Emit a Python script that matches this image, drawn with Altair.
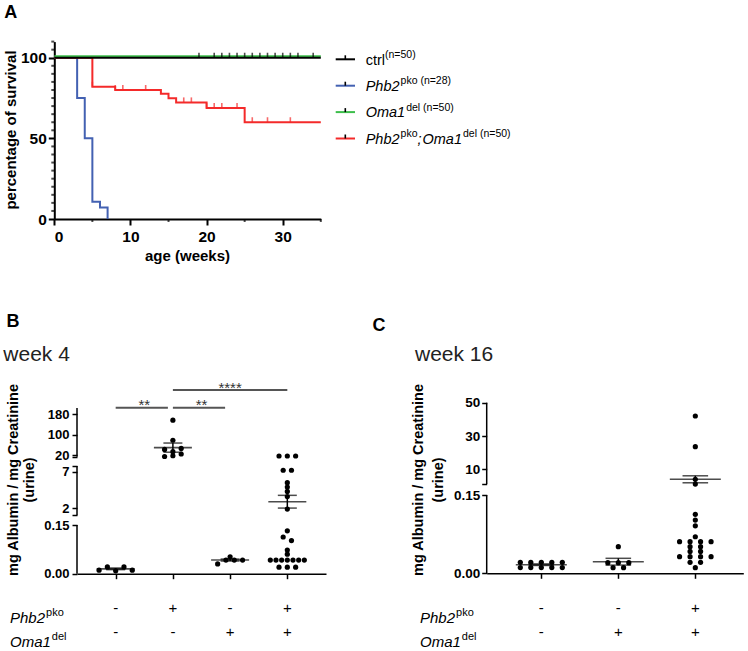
import altair as alt
import pandas as pd

FONT = "Liberation Sans"

# ---------------- Panel A data (Kaplan-Meier) ----------------
km_colors = ["#000000", "#4361B2", "#3DBE4B", "#F42A2A"]
km_t = [
    [0, 35],
    [0, 3, 4, 5, 6, 7],
    [0, 35],
    [0, 5, 8, 14, 15, 16, 20, 25, 35],
]
km_s = [
    [100, 100],
    [100, 75, 50, 10.7, 7.1, 0],
    [100, 100],
    [100, 82, 80, 77.7, 74.9, 72.3, 68.8, 60, 60],
]
cens_t_ctrl = [19, 21, 22, 23, 24, 25, 26, 27, 28, 29, 30, 31, 32, 34]
cens_s_ctrl = [100, 100, 100, 100, 100, 100, 100, 100, 100, 100, 100, 100, 100, 100]
cens_t_dko = [5, 8, 9, 12, 17, 18, 20, 21, 22, 24, 26, 28, 31]
cens_s_dko = [82, 80, 80, 80, 72.3, 72.3, 68.8, 68.8, 68.8, 68.8, 60, 60, 60]
a_xticks = [0, 10, 20, 30]
a_yticks = [0, 50, 100]
legend_rows = [
    [("ctrl", "normal", "main"), ("(n=50)", "normal", "sup")],
    [("Phb2", "italic", "main"), ("pko (n=28)", "normal", "sup")],
    [("Oma1", "italic", "main"), ("del (n=50)", "normal", "sup")],
    [("Phb2", "italic", "main"), ("pko", "normal", "sup"), (";", "italic", "main"),
     ("Oma1", "italic", "main"), ("del (n=50)", "normal", "sup")],
]

# ---------------- Panel B data (week 4) ----------------
b_phb2 = ["-", "+", "-", "+"]
b_oma1 = ["-", "-", "+", "+"]
b_values = [
    [0.011, 0.021, 0.009, 0.021, 0.011],
    [157, 78, 42, 33, 46, 14, 17, 24],
    [0.052, 0.030, 0.042, 0.042, 0.042],
    [16, 16, 16, 7.2, 7.2, 5.5, 4.9, 4.3, 3.6, 1.9,
     0.132, 0.113, 0.102, 0.073, 0.060,
     0.042, 0.042, 0.042, 0.042, 0.042, 0.042, 0.042, 0.020, 0.020, 0.020],
]
b_mean = [0.015, 49, 0.042, 2.9]
b_sem = [0.0025, 18, 0.003, 0.87]
b_sig_from = [0, 1, 1]
b_sig_to = [1, 2, 3]
b_sig_level = [0, 0, 1]
b_sig_text = ["**", "**", "****"]
b_ticks = [0, 0.15, 2, 7, 20, 100, 180]
b_tick_labels = ["0.00", "0.15", "2", "7", "20", "100", "180"]
b_caps = [1.04, 7.78, 13.4]
b_axis_lo = [0, 1.04, 13.4]
b_axis_hi = [0.15, 7.78, 205]

# ---------------- Panel C data (week 16) ----------------
c_phb2 = ["-", "-", "+"]
c_oma1 = ["-", "+", "+"]
c_values = [
    [0.021, 0.011, 0.021, 0.011, 0.021, 0.011, 0.021, 0.011, 0.021, 0.011],
    [0.051, 0.0203, 0.0203, 0.0203, 0.0107, 0.0107],
    [42, 23.6, 4.0, 1.1, 0.113, 0.102, 0.091, 0.070,
     0.0605, 0.0605, 0.0605, 0.0605, 0.051, 0.051, 0.042, 0.042,
     0.0318, 0.0318, 0.0318, 0.0318, 0.0211, 0.0211, 0.0107],
]
c_mean = [0.0165, 0.0222, 4.0]
c_sem = [0.0015, 0.0065, 2.1]
c_ticks = [0, 0.15, 10, 30, 50]
c_tick_labels = ["0.00", "0.15", "10", "30", "50"]
c_caps = [1.17]
c_axis_lo = [0, 1.17]
c_axis_hi = [0.15, 50]

# broken-axis segments: (upper limit, v0, v1, d0, d1) -> display units (px above x axis)
B_SEGS = [(1, 0, 0.15, 0, 48.7), (12, 2, 7, 65.4, 102), (None, 20, 180, 118.7, 159.4)]
C_SEGS = [(0.5, 0, 0.15, 0, 78.3), (None, 10, 50, 104, 170.6)]

ONE = pd.DataFrame({"k": [0]})

ARIAL_W = {' ': 278, '(': 333, ')': 333, '=': 584, ';': 278, 'c': 500, 't': 278, 'r': 333,
           'l': 222, 'P': 667, 'h': 556, 'b': 556, 'p': 556, 'k': 500, 'o': 556, 'O': 778,
           'm': 833, 'a': 556, 'd': 556, 'e': 556, 'n': 556}


def text_w(s, size):
    return sum(ARIAL_W.get(ch, 556) for ch in s) * size / 1000.0


def txt(text, x, y, size, weight="normal", style="normal", align="left",
        baseline="alphabetic", angle=None, color="black"):
    kw = dict(text=text, fontSize=size, fontWeight=weight, fontStyle=style, align=align,
              baseline=baseline, font=FONT, color=color)
    if angle is not None:
        kw["angle"] = angle
    return alt.Chart(ONE).mark_text(**kw).encode(x=alt.value(x), y=alt.value(y))


def seg_map(v, segs):
    for lim, v0, v1, d0, d1 in segs:
        if lim is None or v < lim:
            return d0 + (v - v0) * (d1 - d0) / (v1 - v0)


def seg_expr(field, segs):
    e = None
    for lim, v0, v1, d0, d1 in reversed(segs):
        k = (d1 - d0) / (v1 - v0)
        lin = f"({d0} + ({field} - ({v0})) * {k})"
        e = lin if e is None else f"({field} < {lim} ? {lin} : {e})"
    return e


def swarm(vals, segs, base_step, max_half, bin_h):
    order = sorted(range(len(vals)), key=lambda i: seg_map(vals[i], segs))
    bins, cur, start = [], [], None
    for i in order:
        d = seg_map(vals[i], segs)
        if cur and d - start > bin_h:
            bins.append(cur)
            cur = []
        if not cur:
            start = d
        cur.append(i)
    if cur:
        bins.append(cur)
    dx = [0.0] * len(vals)
    for b in bins:
        n = len(b)
        step = base_step if n < 2 else min(base_step, 2 * max_half / (n - 1))
        for k, i in enumerate(sorted(b)):
            dx[i] = (k - (n - 1) / 2) * step
    return dx


# ======================= Panel A =======================
XA = dict(scale=alt.Scale(domain=[0, 35], range=[54.3, 320.8], nice=False, zero=False),
          axis=alt.Axis(values=a_xticks, title=None, grid=False, domainColor="black",
                        domainWidth=2, tickColor="black", tickWidth=2, tickSize=6,
                        labelFont=FONT, labelFontSize=15.5, labelFontWeight="bold",
                        labelColor="black", labelPadding=4, labelOverlap=False, offset=-111))
YA = dict(scale=alt.Scale(domain=[0, 110], range=[219, 41.6], nice=False, zero=False),
          axis=alt.Axis(values=a_yticks, title=None, grid=False, domainColor="black",
                        domainWidth=2, tickColor="black", tickWidth=2, tickSize=6,
                        labelFont=FONT, labelFontSize=15.5, labelFontWeight="bold",
                        labelColor="black", labelPadding=2, labelOverlap=False, offset=-54.3))

a_layers = []
for gi in [1, 3, 2, 0]:
    df = pd.DataFrame({"t": km_t[gi], "s": km_s[gi]})
    a_layers.append(
        alt.Chart(df).mark_line(interpolate="step-after", strokeWidth=2, color=km_colors[gi],
                                yOffset=(-1.5 if gi == 2 else 0))
        .encode(x=alt.X("t:Q", **XA), y=alt.Y("s:Q", **YA))
    )
for ct, cs, col in [(cens_t_ctrl, cens_s_ctrl, km_colors[0]), (cens_t_dko, cens_s_dko, km_colors[3])]:
    a_layers.append(
        alt.Chart(pd.DataFrame({"t": ct, "s": cs}))
        .mark_tick(orient="vertical", size=5, thickness=1.6, color=col, yOffset=-2.5)
        .encode(x=alt.X("t:Q", **XA), y=alt.Y("s:Q", **YA))
    )
# minor ticks
y_minor = [v for v in range(5, 111, 5) if v % 50 != 0]
x_minor = [5, 15, 25, 35]
a_layers.append(
    alt.Chart(pd.DataFrame({"t": [0] * len(y_minor), "s": y_minor}))
    .mark_tick(orient="horizontal", size=3, thickness=2, color="black", xOffset=-1.5)
    .encode(x=alt.X("t:Q", **XA), y=alt.Y("s:Q", **YA))
)
a_layers.append(
    alt.Chart(pd.DataFrame({"t": x_minor, "s": [0] * len(x_minor)}))
    .mark_tick(orient="vertical", size=3, thickness=2, color="black", yOffset=1.5)
    .encode(x=alt.X("t:Q", **XA), y=alt.Y("s:Q", **YA))
)

# legend (drawn by hand: rich text with italics and superscripts)
LEG_Y0, LEG_DY = 59.3, 26.4
MAIN_FS, SUP_FS = 14.5, 10.5
for r, pieces in enumerate(legend_rows):
    yc = LEG_Y0 + r * LEG_DY
    a_layers.append(alt.Chart(ONE).mark_rule(strokeWidth=2, color=km_colors[r])
                    .encode(x=alt.value(335.7), x2=alt.value(355), y=alt.value(yc)))
    a_layers.append(alt.Chart(ONE).mark_rule(strokeWidth=1.6, color="black")
                    .encode(x=alt.value(345.3), y=alt.value(yc - 4), y2=alt.value(yc)))
    x = 365.7
    base = yc + 5.2
    for text, style, kind in pieces:
        fs = MAIN_FS if kind == "main" else SUP_FS
        yy = base if kind == "main" else base - 6.5
        a_layers.append(txt(text, x, yy, fs, style=style))
        x += text_w(text, fs) + (1.0 if style == "italic" else 0)

a_layers += [
    txt("A", 10.8, 18.3, 18, weight="bold", align="center"),
    txt("percentage of survival", 10.5, 130, 15, weight="bold", align="center",
        baseline="middle", angle=270),
    txt("age (weeks)", 187.5, 255.5, 15, weight="bold", align="center", baseline="middle"),
    txt("B", 13, 326.5, 18, weight="bold", align="center"),
    txt("C", 379, 330.5, 18, weight="bold", align="center"),
]
panel_a = alt.layer(*a_layers).properties(width=748, height=330)


# ======================= Panels B and C =======================
def make_panel(values, means, sems, signs1, signs2, segs, xdom, xrng, yrng, ppu,
               base_step, max_half, ticks, tick_labels, caps, ax_lo, ax_hi,
               mean_size, cap_size, lab_fs, lab_pad, xoff, yoff, width):
    dexpr = lambda f: seg_expr(f, segs)
    tick_d = [round(seg_map(v, segs), 3) for v in ticks]
    cap_d = [round(seg_map(v, segs), 3) for v in caps]
    label_expr = "''"
    for d, lab in zip(reversed(tick_d), reversed(tick_labels)):
        label_expr = f"(abs(datum.value - {d}) < 0.01 ? '{lab}' : {label_expr})"
    X = dict(scale=alt.Scale(domain=xdom, range=xrng, nice=False, zero=False),
             axis=alt.Axis(values=list(range(len(values))), labels=False, title=None, grid=False,
                           domainColor="black", domainWidth=1.5, tickColor="black",
                           tickWidth=1.5, tickSize=5, offset=xoff))
    Y = dict(scale=alt.Scale(domain=[0, 200], range=yrng, nice=False, zero=False),
             axis=alt.Axis(values=sorted(tick_d + cap_d), labelExpr=label_expr, title=None,
                           grid=False, domain=False, tickColor="black", tickWidth=1.5,
                           tickSize=5, labelFont=FONT, labelFontSize=lab_fs,
                           labelFontWeight="bold", labelColor="black", labelPadding=lab_pad,
                           labelOverlap=False, offset=yoff))
    rows = []
    for gi, vals in enumerate(values):
        dx = swarm(vals, segs, base_step, max_half, 4.0)
        for v, o in zip(vals, dx):
            rows.append({"x": gi + o / ppu, "v": v})
    dots = pd.DataFrame(rows)
    stats = pd.DataFrame({"x": list(range(len(values))), "m": means, "s": sems,
                          "p1": signs1, "p2": signs2})
    axsegs = pd.DataFrame({"lo": ax_lo, "hi": ax_hi})

    layers = [
        alt.Chart(axsegs).transform_calculate(lo_d=dexpr("datum.lo"), hi_d=dexpr("datum.hi"))
        .mark_rule(strokeWidth=1.5, color="black")
        .encode(x=alt.value(xrng[0]), y=alt.Y("lo_d:Q", **Y), y2="hi_d:Q"),
        alt.Chart(dots).transform_calculate(d=dexpr("datum.v"))
        .mark_circle(size=27, color="black", opacity=1)
        .encode(x=alt.X("x:Q", **X), y=alt.Y("d:Q", **Y)),
    ]
    st = alt.Chart(stats).transform_calculate(
        lo="datum.m - datum.s", hi="datum.m + datum.s"
    ).transform_calculate(
        md=dexpr("datum.m"), lo_d=dexpr("datum.lo"), hi_d=dexpr("datum.hi")
    )
    layers += [
        st.mark_rule(strokeWidth=1.5, color="black")
        .encode(x=alt.X("x:Q", **X), y=alt.Y("lo_d:Q", **Y), y2="hi_d:Q"),
        st.mark_tick(orient="horizontal", size=cap_size, thickness=1.5, color="black")
        .encode(x=alt.X("x:Q", **X), y=alt.Y("lo_d:Q", **Y)),
        st.mark_tick(orient="horizontal", size=cap_size, thickness=1.5, color="black")
        .encode(x=alt.X("x:Q", **X), y=alt.Y("hi_d:Q", **Y)),
        st.mark_tick(orient="horizontal", size=mean_size, thickness=1.6, color="black")
        .encode(x=alt.X("x:Q", **X), y=alt.Y("md:Q", **Y)),
        alt.Chart(stats).mark_text(font=FONT, fontSize=15, color="black", baseline="alphabetic")
        .encode(x=alt.X("x:Q", **X), y=alt.value(282.7), text="p1:N"),
        alt.Chart(stats).mark_text(font=FONT, fontSize=15, color="black", baseline="alphabetic")
        .encode(x=alt.X("x:Q", **X), y=alt.value(307), text="p2:N"),
    ]
    return layers, X, Y, dexpr


b_layers, BX, BY, b_expr = make_panel(
    b_values, b_mean, b_sem, b_phb2, b_oma1, B_SEGS, [-0.676, 3.676], [77, 326],
    [243.7, 43.7], 57.2, 8.3, 17, b_ticks, b_tick_labels, b_caps, b_axis_lo, b_axis_hi,
    38, 19, 13, 3, -77.3, -77, 380)

sig = pd.DataFrame({"a": b_sig_from, "b": b_sig_to, "lvl": b_sig_level, "lab": b_sig_text})
for lvl, x2off in [(0, -5), (1, 0)]:
    b_layers.append(
        alt.Chart(sig).transform_filter(f"datum.lvl == {lvl}")
        .transform_calculate(bd="166 + datum.lvl * 17.7")
        .mark_rule(strokeWidth=2, color="#555555", x2Offset=x2off)
        .encode(x=alt.X("a:Q", **BX), x2="b:Q", y=alt.Y("bd:Q", **BY))
    )
b_layers.append(
    alt.Chart(sig).transform_calculate(bd="166 + datum.lvl * 17.7", xm="(datum.a + datum.b) / 2")
    .mark_text(font=FONT, fontSize=15, color="#333333", baseline="alphabetic", dy=2.5)
    .encode(x=alt.X("xm:Q", **BX), y=alt.Y("bd:Q", **BY), text="lab:N")
)
b_layers += [
    txt("week 4", 3.3, 31, 21, color="#222222"),
    txt("mg Albumin / mg Creatinine", 14, 150, 14.5, weight="bold", align="center",
        baseline="middle", angle=270),
    txt("(urine)", 29.5, 150, 14.5, weight="bold", align="center", baseline="middle", angle=270),
    txt("Phb2", 10, 292.5, 15, style="italic"),
    txt("pko", 10 + text_w("Phb2", 15) + 1, 285.5, 11),
    txt("Oma1", 10, 317, 15, style="italic"),
    txt("del", 10 + text_w("Oma1", 15) + 1, 310, 11),
]
panel_b = alt.layer(*b_layers).properties(width=380, height=321)

c_layers, CX, CY, c_expr = make_panel(
    c_values, c_mean, c_sem, c_phb2, c_oma1, C_SEGS, [-0.709, 2.623], [106.7, 363.3],
    [243.3, 43.3], 77, 10.5, 23, c_ticks, c_tick_labels, c_caps, c_axis_lo, c_axis_hi,
    51, 25.6, 13.5, 2, -77.7, -106.7, 368)
c_layers += [
    txt("week 16", 35, 31, 21, color="#222222"),
    txt("mg Albumin / mg Creatinine", 39, 150, 14.5, weight="bold", align="center",
        baseline="middle", angle=270),
    txt("(urine)", 59, 150, 14.5, weight="bold", align="center", baseline="middle", angle=270),
    txt("Phb2", 40, 292.5, 15, style="italic"),
    txt("pko", 40 + text_w("Phb2", 15) + 1, 285.5, 11),
    txt("Oma1", 40, 317, 15, style="italic"),
    txt("del", 40 + text_w("Oma1", 15) + 1, 310, 11),
]
panel_c = alt.layer(*c_layers).properties(width=368, height=321)

chart = alt.vconcat(
    panel_a,
    alt.hconcat(panel_b, panel_c, spacing=0, bounds="flush"),
    spacing=0, bounds="flush",
).properties(padding={"left": 0, "right": 0, "top": 0, "bottom": 0}).configure_view(stroke=None)

chart.save("out.html", embed_options={"renderer": "svg", "actions": False})
